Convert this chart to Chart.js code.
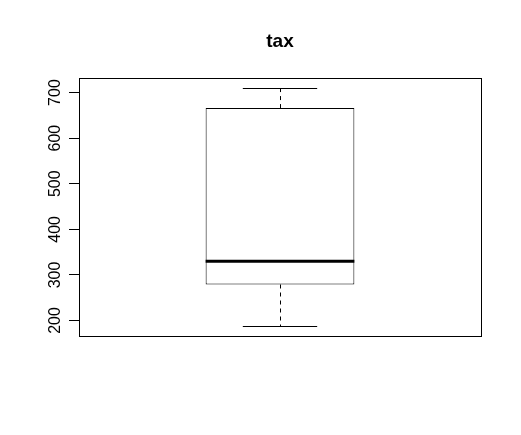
<!DOCTYPE html>
<html>
<head>
<meta charset="utf-8">
<script src="https://cdn.jsdelivr.net/npm/chart.js@4/dist/chart.umd.min.js"></script>
<style>
  html, body { margin: 0; padding: 0; background: #fff; }
  #wrap { width: 521px; height: 435px; }
</style>
</head>
<body>
<div id="wrap"><canvas id="c" width="521" height="435"></canvas></div>
<script>
const chartTitle = 'tax';
const categories = ['tax'];
const whiskerLow = [187];
const q1 = [279];
const median = [330];
const q3 = [666];
const whiskerHigh = [711];
const yTicks = [200, 300, 400, 500, 600, 700];
const yTickLabels = ['200', '300', '400', '500', '600', '700'];

const FONT = '"Liberation Sans", Arial, Helvetica, sans-serif';
const dataMin = Math.min(...whiskerLow);
const dataMax = Math.max(...whiskerHigh);
const ext = (dataMax - dataMin) * 0.04;

const boxPlugin = {
  id: 'boxPlugin',
  afterDatasetsDraw(chart) {
    const ctx = chart.ctx;
    const ys = chart.scales.y;
    const meta = chart.getDatasetMeta(0);
    meta.data.forEach((bar, i) => {
      const props = bar.getProps(['x', 'width'], true);
      const cx = Math.round(props.x) + 0.5;
      const half = props.width / 2;
      const yMed = ys.getPixelForValue(median[i]);
      const yQ1 = ys.getPixelForValue(q1[i]);
      const yQ3 = ys.getPixelForValue(q3[i]);
      const yLo = ys.getPixelForValue(whiskerLow[i]);
      const yHi = ys.getPixelForValue(whiskerHigh[i]);
      ctx.save();
      ctx.strokeStyle = '#000';
      // median
      ctx.lineWidth = 3;
      ctx.beginPath();
      ctx.moveTo(props.x - half, yMed);
      ctx.lineTo(props.x + half, yMed);
      ctx.stroke();
      // whiskers dashed
      ctx.lineWidth = 1;
      ctx.setLineDash([4, 4]);
      ctx.beginPath();
      ctx.moveTo(cx, yQ3); ctx.lineTo(cx, yHi);
      ctx.moveTo(cx, yQ1); ctx.lineTo(cx, yLo);
      ctx.stroke();
      ctx.setLineDash([]);
      // caps
      ctx.beginPath();
      ctx.moveTo(props.x - half / 2, Math.round(yHi) + 0.5);
      ctx.lineTo(props.x + half / 2, Math.round(yHi) + 0.5);
      ctx.moveTo(props.x - half / 2, Math.round(yLo) + 0.5);
      ctx.lineTo(props.x + half / 2, Math.round(yLo) + 0.5);
      ctx.stroke();
      ctx.restore();
    });
  },
  afterDraw(chart) {
    const ctx = chart.ctx;
    const a = chart.chartArea;
    const ys = chart.scales.y;
    ctx.save();
    // frame
    ctx.strokeStyle = '#000';
    ctx.lineWidth = 1;
    ctx.strokeRect(Math.round(a.left) + 0.5, Math.round(a.top) + 0.5,
      Math.round(a.right - a.left), Math.round(a.bottom - a.top));
    // y tick labels (rotated, like R)
    ctx.fillStyle = '#000';
    ctx.font = '16px ' + FONT;
    ctx.textAlign = 'center';
    ctx.textBaseline = 'alphabetic';
    yTicks.forEach((v, i) => {
      const y = ys.getPixelForValue(v);
      ctx.save();
      ctx.translate(a.left - 19, y);
      ctx.rotate(-Math.PI / 2);
      ctx.fillText(yTickLabels[i], 0, 0);
      ctx.restore();
    });
    // title
    ctx.font = 'bold 19px ' + FONT;
    ctx.textAlign = 'center';
    ctx.fillText(chartTitle, (a.left + a.right) / 2, 47);
    ctx.restore();
  }
};

new Chart(document.getElementById('c'), {
  type: 'bar',
  data: {
    labels: categories,
    datasets: [{
      data: categories.map((c, i) => [q1[i], q3[i]]),
      backgroundColor: '#fff',
      borderColor: '#000',
      borderWidth: 1,
      borderSkipped: false,
      barPercentage: 0.37,
      categoryPercentage: 1.0
    }]
  },
  options: {
    responsive: false,
    animation: false,
    devicePixelRatio: 1,
    layout: { padding: { top: 78, right: 40, bottom: 99, left: 0 } },
    plugins: { legend: { display: false }, title: { display: false }, tooltip: { enabled: false } },
    scales: {
      x: { display: false },
      y: {
        min: dataMin - ext,
        max: dataMax + ext,
        afterBuildTicks(scale) { scale.ticks = yTicks.map(v => ({ value: v })); },
        afterFit(scale) { scale.width = 79; },
        ticks: { display: false },
        grid: { drawOnChartArea: false, drawTicks: true, tickLength: 10, color: '#000', lineWidth: 1 },
        border: { display: true, color: '#000', width: 1 }
      }
    }
  },
  plugins: [boxPlugin]
});
</script>
</body>
</html>
